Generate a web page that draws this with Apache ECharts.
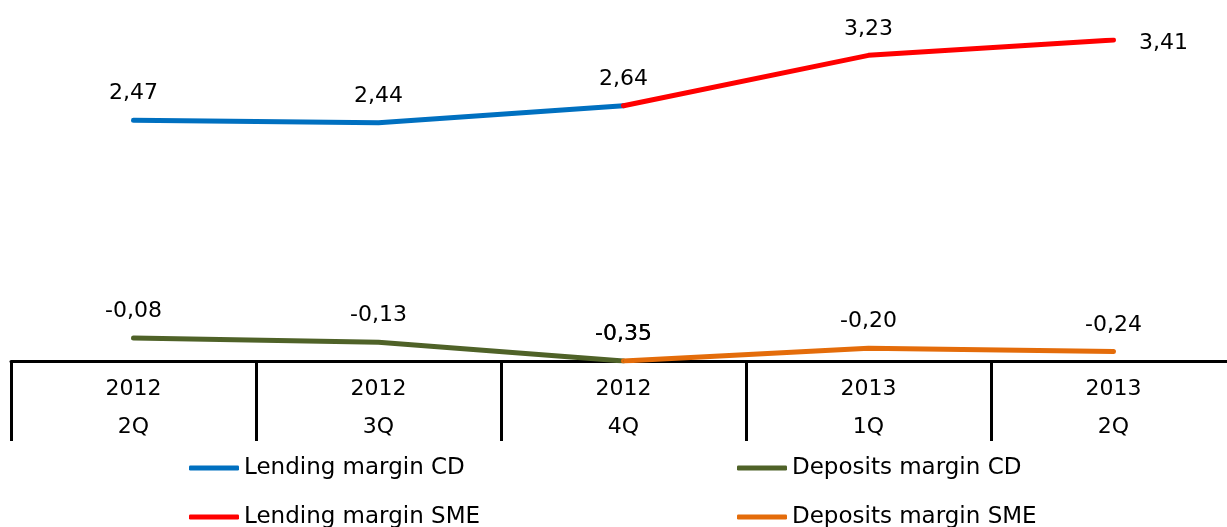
<!DOCTYPE html>
<html>
<head>
<meta charset="utf-8">
<script src="https://cdn.jsdelivr.net/npm/echarts@6/dist/echarts.min.js"></script>
<style>
html,body{margin:0;padding:0;background:#fff;overflow:hidden;}
#c{width:1240px;height:527px;}
</style>
</head>
<body>
<div id="c"></div>
<script>
const years = ['2012','2012','2012','2013','2013'];
const quarters = ['2Q','3Q','4Q','1Q','2Q'];
const lendingCD = [2.47, 2.44, 2.64, null, null];
const lendingSME = [null, null, 2.64, 3.23, 3.41];
const depositsCD = [-0.08, -0.13, -0.35, null, null];
const depositsSME = [null, null, -0.35, -0.20, -0.24];
const seriesNames = ['Lending margin CD','Lending margin SME','Deposits margin CD','Deposits margin SME'];
const colors = ['#0070C0','#FF0000','#4F6228','#E46C0A'];

const FONT = 'DejaVu Sans';
const categories = years.map((y,i)=>y+'\n'+quarters[i]);

function fmt(v){ return v.toFixed(2).replace('.', ','); }

function buildData(arr, hideIdx, rightIdx){
  return arr.map((v,i)=>{
    if (v === null) return null;
    const d = {value: v};
    if (hideIdx.includes(i)) d.label = {show:false};
    if (rightIdx.includes(i)) d.label = {position:'right', distance:25, offset:[0,3]};
    return d;
  });
}

const labelCfg = {
  show: true, position: 'top', distance: 15,
  fontFamily: FONT, fontSize: 22, color: '#000',
  formatter: p => fmt(Array.isArray(p.value) ? p.value[1] : p.value)
};

function mk(name, arr, color, hideIdx, rightIdx){
  return {
    name, type: 'line', data: buildData(arr, hideIdx||[], rightIdx||[]),
    showSymbol: true, symbol: 'circle', symbolSize: 1,
    lineStyle: {color, width: 5, cap: 'round', join: 'round'},
    itemStyle: {color},
    label: labelCfg,
    connectNulls: false,
    animation: false
  };
}

const chart = echarts.init(document.getElementById('c'));
chart.setOption({
  animation: false,
  color: colors,
  grid: {left: 11, width: 1225, top: 40, height: 321, containLabel: false},
  xAxis: {
    type: 'category', data: categories, boundaryGap: true,
    axisLine: {onZero: false, lineStyle: {color: '#000', width: 3}},
    axisTick: {show: true, length: 80, alignWithLabel: false, lineStyle: {color: '#000', width: 3}},
    axisLabel: {fontFamily: FONT, fontSize: 22, color: '#000', lineHeight: 38, margin: 9, interval: 0}
  },
  yAxis: {
    type: 'value', min: -0.35, max: 3.41, show: false,
    splitLine: {show: false}
  },
  legend: {
    data: seriesNames, orient: 'vertical', left: 189, top: 456, height: 80, padding: 0,
    itemWidth: 50, itemHeight: 5, itemGap: 25, icon: 'roundRect',
    textStyle: {fontFamily: FONT, fontSize: 23, color: '#000', lineHeight: 24, width: 468}
  },
  series: [
    mk(seriesNames[0], lendingCD, colors[0]),
    mk(seriesNames[1], lendingSME, colors[1], [2], [4]),
    mk(seriesNames[2], depositsCD, colors[2]),
    mk(seriesNames[3], depositsSME, colors[3])
  ]
});
</script>
</body>
</html>
